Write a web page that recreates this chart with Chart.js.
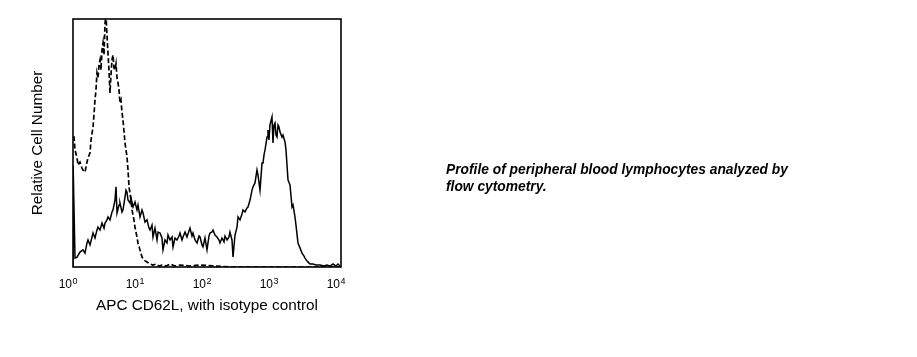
<!DOCTYPE html>
<html>
<head>
<meta charset="utf-8">
<script src="https://cdn.jsdelivr.net/npm/chart.js@4/dist/chart.umd.min.js"></script>
<style>
  html, body { margin: 0; padding: 0; background: #fff; }
  #wrap { position: relative; width: 917px; height: 357px; overflow: hidden; }
  #c { position: absolute; left: 0; top: 0; }
  #caption {
    position: absolute; left: 446px; top: 161px; width: 440px;
    font-family: 'Liberation Sans', Arial, sans-serif; font-size: 13.8px;
    font-weight: bold; font-style: italic; line-height: 17px; color: #000;
  }
</style>
</head>
<body>
<div id="wrap">
  <canvas id="c" width="917" height="357"></canvas>
  <div id="caption">Profile of peripheral blood lymphocytes analyzed by<br>flow cytometry.</div>
</div>
<script>
// ---- data (x in decades: 0 = 10^0 ... 4 = 10^4; y = relative cell number, % of axis) ----
const tickDecades = [0, 1, 2, 3, 4];
const tickBase = '10';
const tickExponents = ['0', '1', '2', '3', '4'];
const xTitle = 'APC CD62L, with isotype control';
const yTitle = 'Relative Cell Number';

const cd62lX = [0.000,0.002,0.030,0.060,0.104,0.149,0.179,0.209,0.224,0.254,0.284,0.299,0.328,0.358,0.373,0.403,0.433,0.463,0.478,0.507,0.522,0.552,0.582,0.597,0.627,0.642,0.657,0.687,0.701,0.731,0.746,0.776,0.791,0.806,0.821,0.851,0.866,0.896,0.925,0.955,0.970,1.000,1.030,1.045,1.075,1.104,1.134,1.149,1.179,1.194,1.224,1.254,1.269,1.299,1.328,1.343,1.373,1.403,1.418,1.448,1.478,1.493,1.522,1.552,1.582,1.597,1.627,1.642,1.672,1.701,1.731,1.746,1.776,1.791,1.821,1.851,1.881,1.896,1.925,1.940,1.970,2.000,2.030,2.045,2.075,2.090,2.119,2.149,2.179,2.194,2.224,2.254,2.269,2.299,2.328,2.343,2.373,2.388,2.418,2.448,2.463,2.493,2.522,2.537,2.567,2.597,2.612,2.642,2.672,2.687,2.716,2.746,2.761,2.791,2.821,2.836,2.851,2.866,2.896,2.910,2.925,2.940,2.970,2.985,3.000,3.015,3.030,3.045,3.060,3.075,3.090,3.119,3.134,3.164,3.179,3.194,3.209,3.239,3.269,3.284,3.313,3.328,3.358,3.388,3.418,3.448,3.463,3.493,3.507,3.537,3.582,3.627,3.687,3.746,3.791,3.836,3.881,3.925,3.955,3.985];
const cd62lY = [0,41.1,3.6,4.0,6.0,6.9,5.6,9.7,10.9,8.9,12.1,13.7,11.7,14.9,16.1,14.9,17.7,15.7,17.7,19.0,20.2,19.0,22.2,23.0,27.0,32.3,21.8,25.0,25.8,22.2,23.0,28.2,31.0,30.2,27.0,25.8,27.8,24.2,26.2,23.0,25.0,20.2,23.0,21.8,18.1,19.0,15.7,14.9,16.9,12.1,15.7,10.9,14.1,13.7,11.7,6.9,10.9,9.7,12.9,10.9,12.1,8.1,11.7,10.9,12.5,13.7,10.9,12.1,14.1,12.1,14.5,15.7,12.5,13.7,10.9,9.7,12.5,12.1,8.9,8.1,11.7,6.9,12.5,13.7,14.1,14.9,12.9,12.1,10.9,9.7,11.7,10.1,12.5,10.9,12.1,14.1,10.9,4.0,12.9,16.1,20.2,19.0,21.4,23.0,22.2,23.8,24.2,27.0,31.0,32.3,33.9,39.1,37.1,31.0,41.9,41.9,45.2,47.2,52.4,55.2,51.2,57.3,60.5,50.0,57.3,58.1,53.2,52.4,57.3,56.5,54.4,52.4,53.2,50.4,47.2,41.1,35.1,33.1,24.2,25.0,20.2,16.9,9.7,7.7,5.6,4.4,3.6,2.4,2.0,1.2,1.2,0.8,0.8,0.4,0.8,0.4,1.2,0.4,1.2,0.4];

const isotypeX = [0.000,0.015,0.030,0.060,0.075,0.104,0.134,0.149,0.179,0.209,0.224,0.254,0.269,0.299,0.313,0.328,0.343,0.358,0.373,0.388,0.403,0.418,0.433,0.448,0.463,0.478,0.493,0.507,0.522,0.537,0.552,0.567,0.582,0.597,0.612,0.627,0.642,0.657,0.672,0.687,0.701,0.716,0.731,0.746,0.761,0.776,0.791,0.806,0.821,0.836,0.866,0.881,0.910,0.925,0.955,0.970,1.000,1.030,1.060,1.104,1.149,1.194,1.239,1.284,1.328,1.388,1.448,1.522,1.597,1.746,1.896,2.119,2.343,2.642,2.940,3.388,4.000];
const isotypeY = [52.4,52.4,47.2,44.0,41.1,42.3,39.9,39.1,38.3,42.3,44.0,46.0,51.2,56.5,61.3,67.3,71.4,78.2,76.2,81.5,83.5,79.4,87.5,90.3,85.5,98.4,101.6,93.5,86.3,79.4,70.2,77.4,83.5,85.5,80.2,79.4,81.9,76.2,74.2,71.4,66.1,67.3,62.5,59.3,54.8,50.0,47.2,44.4,39.1,32.3,27.0,23.0,19.0,16.1,12.1,9.7,6.9,4.0,2.8,2.0,1.2,0.8,1.2,0.4,0.8,0.4,1.2,0.4,0.8,0.4,0.8,0.4,0,0,0,0,0];

// ---- chart ----
const FONT = "'Liberation Sans', Arial, sans-serif";
const toPoints = (xs, ys) => xs.map((x, i) => ({ x: x, y: ys[i] }));

const framePlugin = {
  id: 'frame',
  afterDatasetsDraw(chart) {
    const { ctx, chartArea: a } = chart;
    ctx.save();
    ctx.strokeStyle = '#000';
    ctx.lineWidth = 1.6;
    ctx.strokeRect(a.left, a.top, a.right - a.left, a.bottom - a.top);
    ctx.restore();
  }
};

const tickLabelPlugin = {
  id: 'powerTicks',
  afterDraw(chart) {
    const { ctx } = chart;
    const xs = chart.scales.x;
    ctx.save();
    ctx.fillStyle = '#000';
    ctx.textBaseline = 'alphabetic';
    tickDecades.forEach((d, i) => {
      const px = xs.getPixelForValue(d);
      ctx.font = '12px ' + FONT;
      ctx.textAlign = 'right';
      ctx.fillText(tickBase, px - 1, 288);
      ctx.font = '9px ' + FONT;
      ctx.textAlign = 'left';
      ctx.fillText(tickExponents[i], px - 0.5, 284);
    });
    ctx.restore();
  }
};

new Chart(document.getElementById('c'), {
  type: 'line',
  data: {
    datasets: [
      {
        label: 'Isotype control',
        data: toPoints(isotypeX, isotypeY),
        borderColor: '#000',
        borderWidth: 1.7,
        borderDash: [5, 2.5],
        pointRadius: 0,
        tension: 0,
        fill: false
      },
      {
        label: 'APC CD62L',
        data: toPoints(cd62lX, cd62lY),
        borderColor: '#000',
        borderWidth: 1.5,
        pointRadius: 0,
        tension: 0,
        fill: false
      }
    ]
  },
  options: {
    responsive: false,
    devicePixelRatio: 1,
    animation: false,
    layout: { padding: { left: 0, top: 19, right: 576, bottom: 0 } },
    plugins: { legend: { display: false }, tooltip: { enabled: false } },
    scales: {
      x: {
        type: 'linear', min: 0, max: 4,
        grid: { display: false },
        border: { display: false },
        ticks: { display: false },
        title: {
          display: true, text: xTitle, color: '#000',
          font: { family: FONT, size: 15.3 },
          padding: { top: 0, bottom: 42 }
        },
        afterFit(s) { s.height = 90; }
      },
      y: {
        type: 'linear', min: 0, max: 100,
        grid: { display: false },
        border: { display: false },
        ticks: { display: false },
        title: {
          display: true, text: yTitle, color: '#000',
          font: { family: FONT, size: 15.3 },
          padding: { top: 29, bottom: 0 }
        },
        afterFit(s) { s.width = 73; }
      }
    }
  },
  plugins: [framePlugin, tickLabelPlugin]
});
</script>
</body>
</html>
